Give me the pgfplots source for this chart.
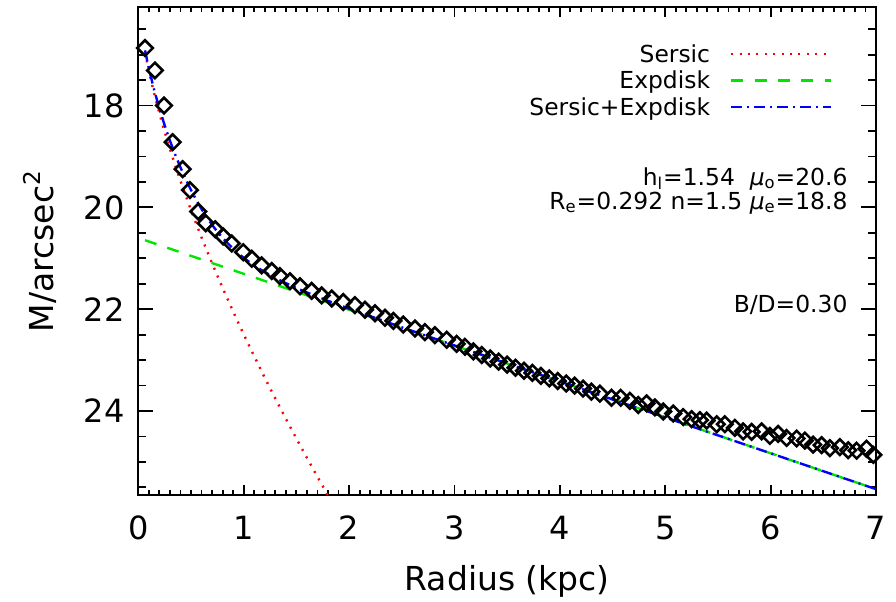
\documentclass[border=0pt]{standalone}
\usepackage{fontspec}
\setmainfont{DejaVu Sans}
\usepackage{pgfplots}
\usepackage{pgfplotstable}
\pgfplotsset{compat=1.18}
\definecolor{sred}{RGB}{255,0,0}
\definecolor{sgreen}{RGB}{0,230,0}
\definecolor{sblue}{RGB}{0,0,255}

% observed profile (diamonds)
\pgfplotstableread{
r mu
0.064 16.87
0.158 17.31
0.244 18.00
0.326 18.72
0.421 19.25
0.490 19.66
0.569 20.08
0.640 20.31
0.730 20.43
0.805 20.57
0.886 20.71
0.996 20.88
1.076 21.01
1.171 21.14
1.266 21.25
1.344 21.35
1.439 21.45
1.534 21.55
1.645 21.64
1.740 21.73
1.835 21.79
1.945 21.86
2.056 21.92
2.151 22.01
2.246 22.08
2.341 22.17
2.420 22.23
2.514 22.30
2.625 22.38
2.720 22.45
2.815 22.51
2.926 22.60
3.021 22.68
3.100 22.74
3.180 22.83
3.260 22.90
3.340 22.97
3.420 23.03
3.500 23.09
3.580 23.15
3.660 23.21
3.740 23.25
3.820 23.31
3.900 23.36
3.980 23.41
4.060 23.46
4.140 23.50
4.220 23.56
4.300 23.62
4.380 23.66
4.491 23.74
4.577 23.74
4.665 23.80
4.744 23.88
4.823 23.85
4.902 23.93
4.981 24.01
5.076 24.05
5.171 24.12
5.250 24.16
5.329 24.18
5.393 24.19
5.488 24.26
5.566 24.26
5.661 24.33
5.740 24.40
5.820 24.41
5.915 24.40
5.993 24.49
6.072 24.45
6.152 24.53
6.247 24.54
6.325 24.58
6.404 24.66
6.484 24.67
6.563 24.73
6.658 24.71
6.736 24.77
6.816 24.78
6.910 24.74
6.975 24.86
}\obsdata

\pgfplotstableread{
r mu
0.064 16.952
0.10 17.318
0.15 17.759
0.20 18.153
0.25 18.515
0.30 18.853
0.35 19.172
0.40 19.478
0.45 19.770
0.50 20.052
0.55 20.325
0.60 20.589
0.65 20.846
0.70 21.097
0.75 21.341
0.80 21.581
0.90 22.046
1.00 22.493
1.10 22.925
1.20 23.345
1.30 23.754
1.40 24.151
1.50 24.540
1.60 24.920
1.70 25.292
1.80 25.657
1.85 25.837
}\sersic

\pgfplotstableread{
r mu
0.064 20.645
3.50 23.067
7.00 25.535
}\expdisk

\pgfplotstableread{
r mu
0.064 16.916
0.10 17.270
0.15 17.689
0.20 18.057
0.25 18.387
0.30 18.688
0.35 18.962
0.40 19.215
0.45 19.446
0.50 19.659
0.55 19.854
0.60 20.032
0.65 20.194
0.70 20.343
0.75 20.477
0.80 20.600
0.90 20.813
1.00 20.992
1.10 21.142
1.20 21.272
1.30 21.386
1.40 21.489
1.50 21.583
1.60 21.672
1.70 21.755
1.80 21.836
2.00 21.990
2.50 22.356
3.00 22.713
4.00 23.420
5.00 24.125
6.00 24.830
7.00 25.535
}\total

\begin{document}
\begin{tikzpicture}
\useasboundingbox (-69.15pt,-53pt) rectangle (378.85pt,247.5pt);
\begin{axis}[
    scale only axis,
    width=368.85pt, height=243.85pt,
    xmin=0, xmax=7,
    ymin=16.07, ymax=25.65,
    y dir=reverse,
    xtick={0,1,...,7},
    ytick={18,20,22,24},
    minor xtick={0,0.1,...,7},
    minor ytick={16.5,17,...,25.5},
    tick align=inside, tick pos=both,
    axis line style={line width=1pt, black},
    every tick/.style={black, line width=0.9pt},
    xtick style={/pgfplots/major tick length=4.85pt, /pgfplots/minor tick length=2.5pt},
    ytick style={/pgfplots/major tick length=7.3pt, /pgfplots/minor tick length=3.8pt},
    /pgf/number format/assume math mode=true,
    tick label style={font=\fontsize{16}{19}\selectfont},
    xticklabel style={anchor=base, yshift=-22.3pt},
    yticklabel style={anchor=east, inner sep=0pt, xshift=-6.6pt},
    every axis x label/.style={at={(axis description cs:0.5,0)}, anchor=base, yshift=-47.7pt, font=\fontsize{16.5}{19}\selectfont},
    every axis y label/.style={at={(axis description cs:-0.115,0.5)}, anchor=base, rotate=90, font=\fontsize{16.5}{19}\selectfont},
    xlabel={Radius (kpc)},
    ylabel={M/arcsec\textsuperscript{2}},
    legend plot pos=right,
    legend cell align=right,
    legend image code/.code={\draw[#1] (0pt,0pt) -- (50pt,0pt);},
    legend style={draw=none, fill=none, at={(axis cs:6.591,16.717)}, anchor=north east,
        inner sep=0pt, column sep=10pt, font=\fontsize{11.7}{13.3}\selectfont,
        nodes={inner sep=0pt, text height=10.85pt, text depth=2.45pt}},
]
\addplot[only marks, mark=square, mark size=2.75pt,
    mark options={rotate=45, line width=1.3pt, draw=black, fill=none}, forget plot]
    table[x=r, y=mu] {\obsdata};
\addplot[sred, line width=1.2pt, dash pattern=on 1pt off 3.2pt] table[x=r, y=mu] {\sersic};
\addlegendentry{Sersic}
\addplot[sgreen, line width=1.2pt, dash pattern=on 6pt off 5.7pt] table[x=r, y=mu] {\expdisk};
\addlegendentry{Expdisk}
\addplot[sblue, line width=1.2pt, dash pattern=on 5.5pt off 2.5pt on 1pt off 2.5pt] table[x=r, y=mu] {\total};
\addlegendentry{Sersic+Expdisk}
\node[anchor=base east, inner sep=0pt, font=\fontsize{11.7}{13.3}\selectfont] at (axis cs:6.733,19.566)
    {h\textsubscript{l}=1.54\ \ \textit{μ}\textsubscript{o}=20.6};
\node[anchor=base east, inner sep=0pt, font=\fontsize{11.7}{13.3}\selectfont] at (axis cs:6.733,20.037)
    {R\textsubscript{e}=0.292 n=1.5 \textit{μ}\textsubscript{e}=18.8};
\node[anchor=base east, inner sep=0pt, font=\fontsize{11.7}{13.3}\selectfont] at (axis cs:6.733,22.06)
    {B/D=0.30};
\end{axis}
\end{tikzpicture}
\end{document}
